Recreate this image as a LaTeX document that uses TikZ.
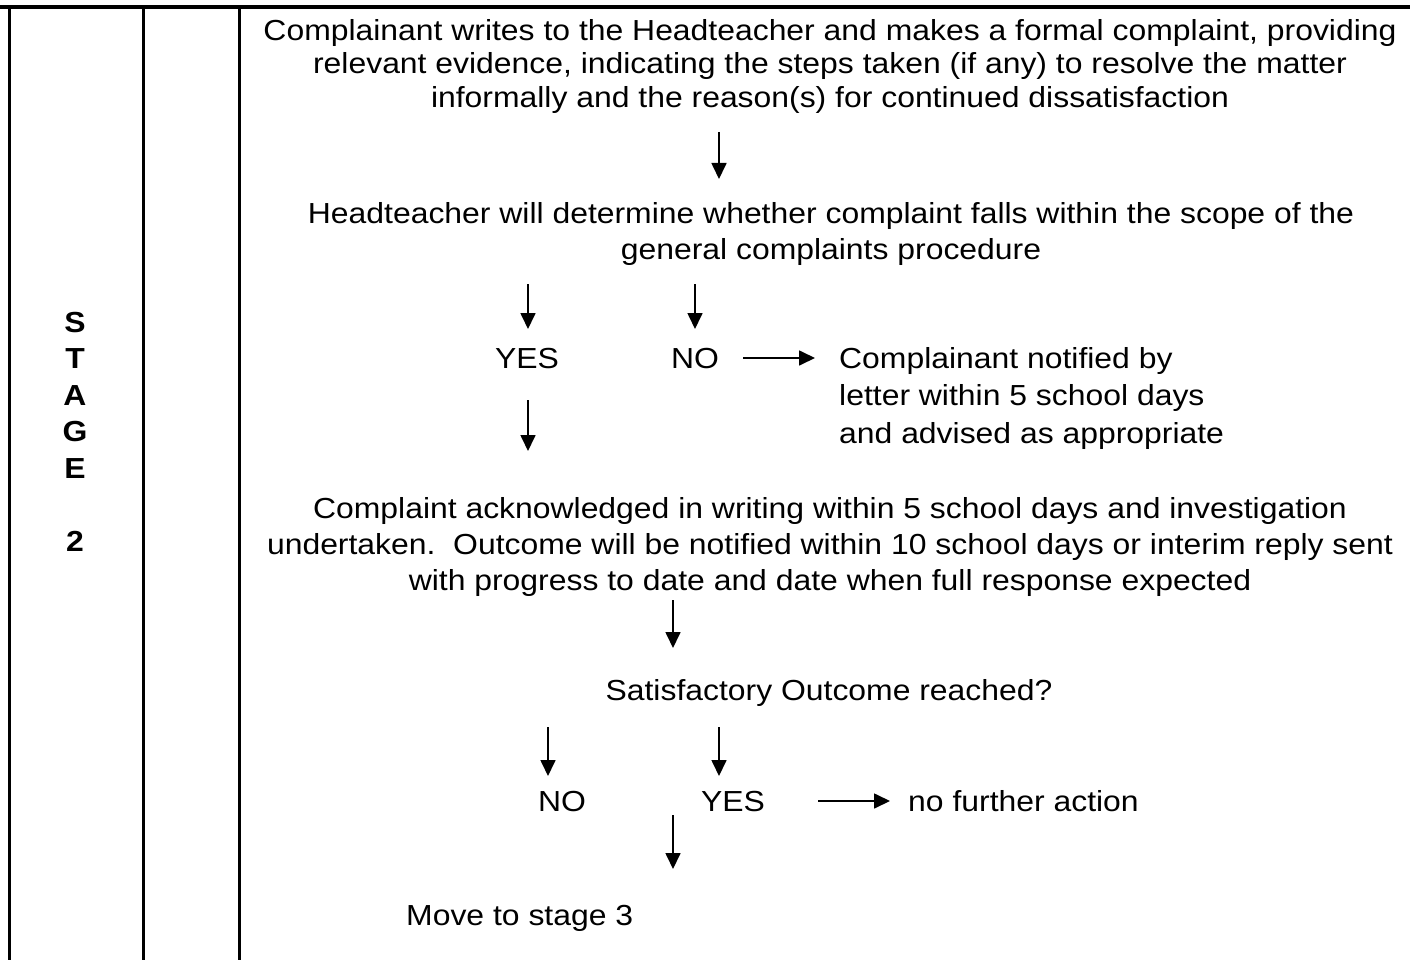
\documentclass[tikz,border=0pt]{standalone}
\usepackage{fontspec}
\setmainfont[FakeStretch=1.1]{Liberation Sans}
\usetikzlibrary{arrows.meta}
\tikzset{
  body/.style={inner sep=0pt, font=\fontsize{29}{36}\selectfont},
  para/.style={body, align=center, anchor=north},
  lbl/.style={body, anchor=base},
  lblw/.style={body, anchor=base west},
  flow/.style={line width=1.7pt, -{Triangle[width=15pt,length=16pt]}},
  rule/.style={line width=3pt},
}
\begin{document}
\begin{tikzpicture}[x=1pt,y=-1pt]
\useasboundingbox (0,0) rectangle (1413,960);
% table rules
\draw[rule, line width=3.4pt] (0,7) -- (1410,7);
\draw[rule] (9,7) -- (9,960);
\draw[rule] (143,7) -- (143,960);
\draw[rule] (239,7) -- (239,960);
% stage label
\node[body, font=\fontsize{29}{36.5}\selectfont\bfseries, align=center, anchor=north] (stage) at (75,312)
  {S\\T\\A\\G\\E\\[36.5pt]2};
% texts
\node[para, font=\fontsize{29}{33.5}\selectfont] (p1) at (830,19)
  {Complainant writes to the Headteacher and makes a formal complaint, providing\\
   relevant evidence, indicating the steps taken (if any) to resolve the matter\\
   informally and the reason(s) for continued dissatisfaction};
\node[para] (p2) at (831,202)
  {Headteacher will determine whether complaint falls within the scope of the\\
   general complaints procedure};
\node[lbl] (yes1) at (527,368) {YES};
\node[lbl] (no1) at (695,368) {NO};
\node[body, align=left, anchor=north west, font=\fontsize{29}{37.5}\selectfont] (notif) at (839,347)
  {Complainant notified by\\letter within 5 school days\\and advised as appropriate};
\node[para] (p3) at (830,497)
  {Complaint acknowledged in writing within 5 school days and investigation\\
   undertaken.\ \ Outcome will be notified within 10 school days or interim reply sent\\
   with progress to date and date when full response expected};
\node[lbl] (sat) at (829,700) {Satisfactory Outcome reached?};
\node[lbl] (no2) at (562,811) {NO};
\node[lbl] (yes2) at (733,811) {YES};
\node[lblw] (nfa) at (908,811) {no further action};
\node[lblw] (move) at (406,925) {Move to stage 3};
% arrow end points
\coordinate (a1s) at (719,132); \coordinate (a1e) at (719,179);
\coordinate (a2s) at (528,284); \coordinate (a2e) at (528,329);
\coordinate (a3s) at (695,284); \coordinate (a3e) at (695,329);
\coordinate (a4s) at (743,358); \coordinate (a4e) at (815,358);
\coordinate (a5s) at (528,400); \coordinate (a5e) at (528,451);
\coordinate (a6s) at (673,600); \coordinate (a6e) at (673,648);
\coordinate (a7s) at (548,727); \coordinate (a7e) at (548,776);
\coordinate (a8s) at (719,727); \coordinate (a8e) at (719,776);
\coordinate (a9s) at (818,801); \coordinate (a9e) at (890,801);
\coordinate (a10s) at (673,815); \coordinate (a10e) at (673,869);
\draw[flow] (a1s) -- (a1e);
\draw[flow] (a2s) -- (a2e);
\draw[flow] (a3s) -- (a3e);
\draw[flow] (a4s) -- (a4e);
\draw[flow] (a5s) -- (a5e);
\draw[flow] (a6s) -- (a6e);
\draw[flow] (a7s) -- (a7e);
\draw[flow] (a8s) -- (a8e);
\draw[flow] (a9s) -- (a9e);
\draw[flow] (a10s) -- (a10e);
\end{tikzpicture}
\end{document}
